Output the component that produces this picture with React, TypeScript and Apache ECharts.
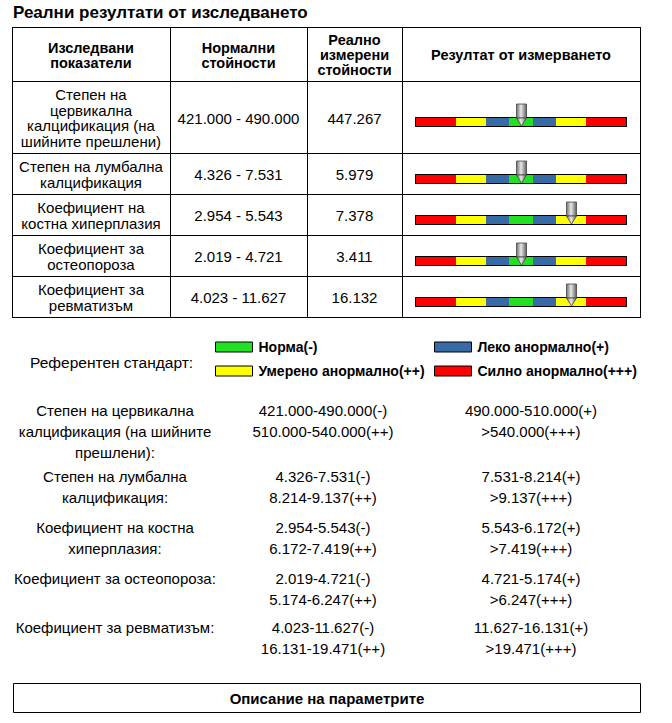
import React, { useEffect, useRef } from 'react';
import * as echarts from 'echarts';

// ---------- DATA ----------
const titleText = 'Реални резултати от изследването';
const headers = ['Изследвани\nпоказатели', 'Нормални\nстойности', 'Реално\nизмерени\nстойности', 'Резултат от измерването'];
const tableNames = [
  'Степен на\nцервикална\nкалцификация (на\nшийните прешлени)',
  'Степен на лумбална\nкалцификация',
  'Коефициент на\nкостна хиперплазия',
  'Коефициент за\nостеопороза',
  'Коефициент за\nревматизъм',
];
const referenceNames = [
  'Степен на цервикална\nкалцификация (на шийните\nпрешлени):',
  'Степен на лумбална\nкалцификация:',
  'Коефициент на костна\nхиперплазия:',
  'Коефициент за остеопороза:',
  'Коефициент за ревматизъм:',
];
// [normal low, normal high / (+) start, (+) end / (++) start, (++) end / (+++) start]
const bounds = [
  [421.0, 490.0, 510.0, 540.0],
  [4.326, 7.531, 8.214, 9.137],
  [2.954, 5.543, 6.172, 7.419],
  [2.019, 4.721, 5.174, 6.247],
  [4.023, 11.627, 16.131, 19.471],
];
const measured = [447.267, 5.979, 7.378, 3.411, 16.132];
const levelNames = ['Норма(-)', 'Леко анормално(+)', 'Умерено анормално(++)', 'Силно анормално(+++)'];
const levelSuffix = ['(-)', '(+)', '(++)', '(+++)'];
const gaugeLevels = [3, 2, 1, 0, 1, 2, 3];
const legendCaption = 'Референтен стандарт:';
const footerText = 'Описание на параметрите';

// ---------- STYLE / LAYOUT ----------
const FONT = "'Liberation Sans', Arial, Helvetica, sans-serif";
const LEVEL_COLORS = ['#22e022', '#386aa6', '#ffff00', '#ff0000'];
const SEG_W = [41, 30, 23, 24, 23, 30, 41];
const SEG_TOTAL = SEG_W.reduce((a, b) => a + b, 0);
const COLS = [12, 170, 307, 402, 640];
const ROW_LINES = [27, 81, 153, 194, 235, 276, 317];
const GAUGE_LEFT = 415;
const BAR_H = 10;
const REF_COLS = [115, 323, 531];
const REF_GROUP_Y = [410, 476, 527, 578, 627];
const REF_LINE = 21;

const fmt = (v: number) => v.toFixed(3);
const levelOf = (v: number, b: number[]) => (v <= b[1] ? 0 : v <= b[2] ? 1 : v <= b[3] ? 2 : 3);
const segCenter = (idx: number) => {
  let s = 0;
  for (let k = 0; k < idx; k++) s += SEG_W[k];
  return s + SEG_W[idx] / 2;
};

function textEl(text: string, x: number, y: number, opts: any = {}) {
  return {
    type: 'text',
    silent: true,
    style: {
      text,
      x,
      y,
      fill: '#000',
      fontFamily: FONT,
      fontSize: opts.size || 15,
      fontWeight: opts.bold ? 'bold' : 'normal',
      align: opts.align || 'center',
      textAlign: opts.align || 'center',
      verticalAlign: opts.valign || 'middle',
      textVerticalAlign: opts.valign || 'middle',
      lineHeight: opts.lh || 15.5,
    },
  };
}

function lineEl(x1: number, y1: number, x2: number, y2: number) {
  return {
    type: 'line',
    silent: true,
    shape: { x1, y1, x2, y2 },
    style: { stroke: '#000', lineWidth: 1 },
  };
}

function buildOption() {
  const graphics: any[] = [];
  // table grid
  ROW_LINES.forEach((y) => graphics.push(lineEl(COLS[0], y + 0.5, COLS[4] + 1, y + 0.5)));
  COLS.forEach((x) => graphics.push(lineEl(x + 0.5, ROW_LINES[0], x + 0.5, ROW_LINES[ROW_LINES.length - 1] + 1)));
  const colCenter = (c: number) => (COLS[c] + COLS[c + 1]) / 2;
  const rowCenter = (r: number) => (ROW_LINES[r] + ROW_LINES[r + 1]) / 2;
  headers.forEach((h, c) => graphics.push(textEl(h, colCenter(c), rowCenter(0) + 1, { bold: true, size: 14.5, lh: 15 })));
  tableNames.forEach((n, i) => {
    const cy = rowCenter(i + 1) + 1;
    graphics.push(textEl(n, colCenter(0), cy));
    graphics.push(textEl(fmt(bounds[i][0]) + ' - ' + fmt(bounds[i][1]), colCenter(1), cy));
    graphics.push(textEl(fmt(measured[i]), colCenter(2), cy));
  });

  // legend caption
  graphics.push(textEl(legendCaption, 30, 362, { align: 'left', size: 15.5 }));

  // reference standard block
  referenceNames.forEach((n, i) => {
    const b = bounds[i];
    const y0 = REF_GROUP_Y[i] - REF_LINE / 2;
    const l0 = fmt(b[0]) + '-' + fmt(b[1]) + levelSuffix[0];
    const l1 = fmt(b[1]) + '-' + fmt(b[2]) + levelSuffix[1];
    const l2 = fmt(b[2]) + '-' + fmt(b[3]) + levelSuffix[2];
    const l3 = '>' + fmt(b[3]) + levelSuffix[3];
    graphics.push(textEl(n, REF_COLS[0], y0, { valign: 'top', lh: REF_LINE }));
    graphics.push(textEl(l0 + '\n' + l2, REF_COLS[1], y0, { valign: 'top', lh: REF_LINE }));
    graphics.push(textEl(l1 + '\n' + l3, REF_COLS[2], y0, { valign: 'top', lh: REF_LINE }));
  });

  // footer box
  graphics.push({
    type: 'rect',
    silent: true,
    shape: { x: 13.5, y: 683.5, width: 627, height: 29 },
    style: { fill: 'none', stroke: '#000', lineWidth: 1 },
  });
  graphics.push(textEl(footerText, 327, 698.5, { bold: true, size: 15 }));

  const grids: any[] = [];
  const xAxes: any[] = [];
  const yAxes: any[] = [];
  const series: any[] = [];
  measured.forEach((v, i) => {
    const top = Math.round(rowCenter(i + 1));
    grids.push({ left: GAUGE_LEFT, top, width: SEG_TOTAL, height: BAR_H, containLabel: false });
    xAxes.push({ gridIndex: i, type: 'value', min: 0, max: SEG_TOTAL, show: false });
    yAxes.push({ gridIndex: i, type: 'category', data: ['g'], show: false });
    gaugeLevels.forEach((lv, j) => {
      series.push({
        type: 'bar',
        name: levelNames[lv],
        stack: 'gauge' + i,
        xAxisIndex: i,
        yAxisIndex: i,
        barWidth: BAR_H,
        silent: true,
        itemStyle: { color: LEVEL_COLORS[lv] },
        data: [SEG_W[j]],
      });
    });
    const lvl = levelOf(v, bounds[i]);
    series.push({
      type: 'custom',
      xAxisIndex: i,
      yAxisIndex: i,
      silent: true,
      z: 10,
      clip: false,
      encode: { x: 0, y: 1 },
      data: [[segCenter(3 + lvl), 0]],
      renderItem: (params: any, api: any) => {
        const p = api.coord([api.value(0), 0]);
        const a = api.coord([0, 0]);
        const b = api.coord([SEG_TOTAL, 0]);
        const t = Math.round(p[1] - BAR_H / 2);
        const px = Math.round(p[0]) + 0.5;
        const grad = new echarts.graphic.LinearGradient(0, 0, 1, 0, [
          { offset: 0, color: '#707070' },
          { offset: 0.45, color: '#e8e8e8' },
          { offset: 1, color: '#606060' },
        ]);
        return {
          type: 'group',
          children: [
            {
              type: 'rect',
              shape: { x: a[0] + 0.5, y: t + 0.5, width: b[0] - a[0] - 1, height: BAR_H - 1 },
              style: { fill: 'none', stroke: '#000', lineWidth: 1 },
            },
            {
              type: 'rect',
              shape: { x: px - 5, y: t - 13, width: 10, height: 14 },
              style: { fill: grad, stroke: '#444', lineWidth: 0.8 },
            },
            {
              type: 'polygon',
              shape: { points: [[px - 5, t + 1], [px + 5, t + 1], [px, t + 9]] },
              style: { fill: grad, stroke: '#444', lineWidth: 0.8 },
            },
          ],
        };
      },
    });
  });

  const legendPos = [
    { left: 215, top: 340 },
    { left: 434, top: 340 },
    { left: 215, top: 364 },
    { left: 434, top: 364 },
  ];
  const legends = levelNames.map((n, k) => ({
    data: [n],
    left: legendPos[k].left,
    top: legendPos[k].top,
    padding: 0,
    orient: 'horizontal',
    icon: 'rect',
    itemWidth: 37,
    itemHeight: 10,
    selectedMode: false,
    itemStyle: { borderColor: '#000', borderWidth: 1 },
    textStyle: { fontFamily: FONT, fontSize: 14, fontWeight: 'bold', color: '#000', padding: [0, 0, 0, 1] },
  }));

  return {
    animation: false,
    backgroundColor: '#fff',
    title: {
      text: titleText,
      left: 13,
      top: 4,
      padding: 0,
      textStyle: { fontFamily: FONT, fontSize: 17, fontWeight: 'bold', color: '#000' },
    },
    legend: legends,
    grid: grids,
    xAxis: xAxes,
    yAxis: yAxes,
    series,
    graphic: graphics,
  };
}

export default function App() {
  const ref = useRef<HTMLDivElement>(null);
  useEffect(() => {
    if (!ref.current) return;
    const chart = echarts.init(ref.current, undefined, { renderer: 'svg' });
    chart.setOption(buildOption() as any);
    return () => chart.dispose();
  }, []);
  return <div ref={ref} style={{ position: 'absolute', left: 0, top: 0, width: 672, height: 723 }} />;
}
